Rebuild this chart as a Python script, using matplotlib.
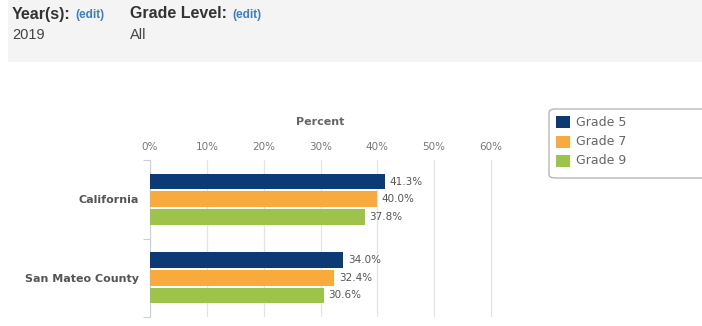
import matplotlib.pyplot as plt
from matplotlib.patches import FancyBboxPatch, Rectangle

regions = ["California", "San Mateo County"]
series = ["Grade 5", "Grade 7", "Grade 9"]
grade5 = [41.3, 34.0]
grade7 = [40.0, 32.4]
grade9 = [37.8, 30.6]
colors = ["#0b3a75", "#f8aa3c", "#9dc34b"]
xticks = [0, 10, 20, 30, 40, 50, 60]

W, H = 702, 326
fig = plt.figure(figsize=(W / 100, H / 100), dpi=100)
fig.patch.set_facecolor("white")
renderer = fig.canvas.get_renderer()

# header panel
fig.add_artist(Rectangle((8 / W, 1 - 62 / H), 1, 62 / H, transform=fig.transFigure,
                         facecolor="#f4f4f4", edgecolor="none"))


def header(x, label, value):
    t = fig.text(x / W, 1 - 14 / H, label, fontsize=11.5, fontweight="bold", color="#333333",
                 va="center", family="Liberation Sans")
    x_end = t.get_window_extent(renderer).x1
    fig.text((x_end + 5) / W, 1 - 15 / H, "(edit)", fontsize=8.5, fontweight="bold", color="#3d7fc0",
             va="center", family="Liberation Sans")
    fig.text(x / W, 1 - 35 / H, value, fontsize=10.5, color="#444444", va="center",
             family="Liberation Sans")


header(12, "Year(s):", "2019")
header(130, "Grade Level:", "All")

# plot area: 0% at x=150, 60% at x=491
left, right, top, bottom = 150, 494, 160, 317
ax = fig.add_axes([left / W, 1 - bottom / H, (right - left) / W, (bottom - top) / H])
ax.set_xlim(0, 60 * (right - left) / 341)
ax.set_ylim(2, 0)

bar_h = 0.2
step = 0.225
for i, vals in enumerate([grade5, grade7, grade9]):
    ys = [r + 0.5 + (i - 1) * step for r in range(len(regions))]
    ax.barh(ys, vals, height=bar_h, color=colors[i], label=series[i], zorder=3)
    for y, v in zip(ys, vals):
        ax.text(v + 0.8, y, f"{v:.1f}%", va="center", ha="left", fontsize=7.5, color="#555555")

ax.set_xticks(xticks)
ax.set_xticklabels([f"{t}%" for t in xticks], fontsize=7.5, color="#777777")
ax.xaxis.tick_top()
ax.tick_params(axis="x", length=0, pad=6)
ax.grid(axis="x", color="#e3e3e3", linewidth=0.9, zorder=0)
ax.set_yticks([0, 1, 2])
ax.set_yticklabels([])
ax.set_yticks([0.5, 1.5], minor=True)
ax.set_yticklabels(regions, minor=True, fontsize=8, fontweight="bold", color="#555555")
ax.tick_params(axis="y", which="major", length=5, color="#c8d0dc", direction="out")
ax.tick_params(axis="y", which="minor", length=0, pad=8)
for s in ["top", "right", "bottom"]:
    ax.spines[s].set_visible(False)
ax.spines["left"].set_color("#c8d0dc")

fig.text((150 + 491) / 2 / W, 1 - 122 / H, "Percent", fontsize=8, fontweight="bold",
         color="#666666", ha="center", va="center")

# legend
fig.add_artist(FancyBboxPatch((549 / W, 1 - 178 / H), 160 / W, 69 / H, transform=fig.transFigure,
                              boxstyle="round,pad=0,rounding_size=0.01", facecolor="white",
                              edgecolor="#b0b0b0", linewidth=0.9))
for i, name in enumerate(series):
    y = 1 - (122 + i * 19.5) / H
    fig.add_artist(Rectangle((556 / W, y - 6 / H), 14 / W, 12 / H, transform=fig.transFigure,
                             facecolor=colors[i], edgecolor="none"))
    fig.text(576 / W, y, name, fontsize=9, color="#666666", va="center")

fig.savefig("out.png", dpi=100)
